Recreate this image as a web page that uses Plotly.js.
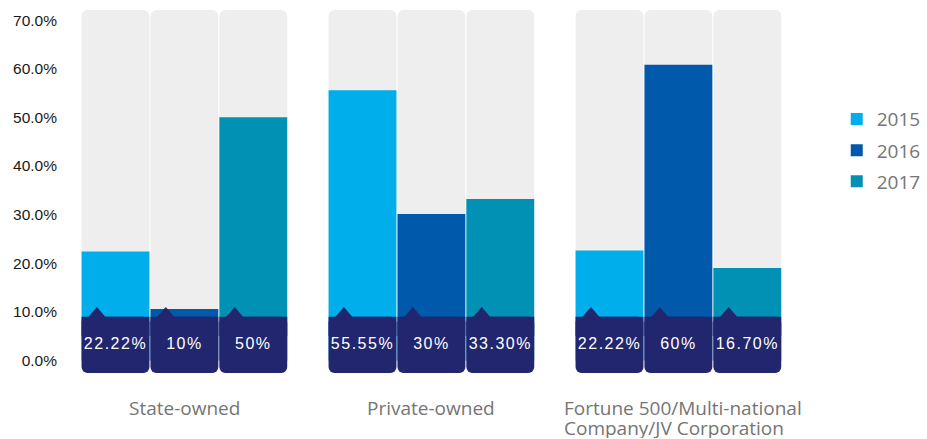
<!DOCTYPE html>
<html><head><meta charset="utf-8">
<script src="https://cdn.plot.ly/plotly-3.0.1.min.js"></script>
<style>
html,body{margin:0;padding:0;background:#fff}
#chart{width:927px;height:439px}
#chart .textpoint text{letter-spacing:1.5px}
</style>
</head><body><div id="chart"></div>
<script>
// ---- data ----
const categories = ['State-owned', 'Private-owned', 'Fortune 500/Multi-national<br>Company/JV Corporation'];
const years = ['2015', '2016', '2017'];
const values2015 = [22.4, 55.6, 22.6];
const values2016 = [10.6, 30.1, 60.8];
const values2017 = [50.0, 33.2, 19.0];
const labels2015 = ['22.22%', '55.55%', '22.22%'];
const labels2016 = ['10%', '30%', '60%'];
const labels2017 = ['50%', '33.30%', '16.70%'];
const yTickVals = [0, 10, 20, 30, 40, 50, 60, 70];

// ---- layout constants ----
const GROUP_STEP = 3.585;
const BAR_W = 0.985;
const BG_TOP = 72.1, BAND_TOP = 9.0, BAND_BOTTOM = -2.6, NOTCH_TOP = 11.0, LABEL_Y = 3.2;
const colors = ['#00AEEC', '#0059AB', '#0091B4'];
const NAVY = '#22266E', GRAY = '#EEEEEE';
const CAT_FONT = {family: 'Open Sans, sans-serif', size: 19, color: '#757575'};

const seriesVals = [values2015, values2016, values2017];
const seriesLabels = [labels2015, labels2016, labels2017];
const xPos = (g, i) => g * GROUP_STEP + i;

const allX = [], allText = [];
categories.forEach((c, g) => years.forEach((y, i) => { allX.push(xPos(g, i)); allText.push(seriesLabels[i][g]); }));

const traces = [];
traces.push({
  type: 'bar', x: allX, y: allX.map(() => BG_TOP - BAND_BOTTOM), base: BAND_BOTTOM,
  width: BAR_W, marker: {color: GRAY, cornerradius: 6}, showlegend: false, hoverinfo: 'skip'
});
years.forEach((yr, i) => {
  traces.push({
    type: 'bar', name: yr, legendgroup: yr,
    x: categories.map((c, g) => xPos(g, i)), y: seriesVals[i],
    width: BAR_W, marker: {color: colors[i]}
  });
});
// navy band: rounded bottom part + square top part
traces.push({
  type: 'bar', x: allX, y: allX.map(() => BAND_BOTTOM - BAND_TOP), base: BAND_TOP,
  width: BAR_W, marker: {color: NAVY, cornerradius: 6}, showlegend: false, hoverinfo: 'skip'
});
traces.push({
  type: 'bar', x: allX, y: allX.map(() => 4), base: BAND_TOP - 4,
  width: BAR_W, marker: {color: NAVY}, showlegend: false, hoverinfo: 'skip'
});
traces.push({
  type: 'scatter', mode: 'text', x: allX, y: allX.map(() => LABEL_Y), text: allText,
  textfont: {family: 'Liberation Sans, Arial, sans-serif', size: 16, color: '#ffffff'},
  showlegend: false, hoverinfo: 'skip'
});

// notch triangles on top of each navy band
const NOTCH_OFF = -0.27, NOTCH_HW = 0.14;
const shapes = allX.map(x => {
  const c = x + NOTCH_OFF;
  return {type: 'path', xref: 'x', yref: 'y', layer: 'above', line: {width: 0}, fillcolor: NAVY,
    path: `M${c - NOTCH_HW},${BAND_TOP - 0.3} L${c},${NOTCH_TOP} L${c + NOTCH_HW},${BAND_TOP - 0.3} Z`};
});

// category labels, one annotation per line
const LINE1_Y = -0.0872, LINE_STEP = 0.0572;
const annotations = [];
categories.forEach((c, g) => {
  const lines = c.split('<br>');
  lines.forEach((ln, k) => {
    const multi = lines.length > 1;
    annotations.push({
      text: ln, showarrow: false, xref: 'x', yref: 'paper', height: 21,
      x: multi ? xPos(g, 0) - 0.5 : xPos(g, 1), xanchor: multi ? 'left' : 'center', xshift: multi ? -13 : 0,
      y: LINE1_Y - k * LINE_STEP, yanchor: 'middle', font: CAT_FONT
    });
  });
});

const layout = {
  width: 927, height: 439,
  margin: {l: 65, r: 127, t: 8, b: 64, autoexpand: false},
  paper_bgcolor: '#ffffff', plot_bgcolor: '#ffffff',
  barmode: 'overlay', showlegend: true,
  xaxis: {
    range: [-0.733, 9.935], showticklabels: false,
    showgrid: false, zeroline: false, showline: false, ticks: ''
  },
  yaxis: {
    range: [-3, 72.5], tickvals: yTickVals, ticktext: yTickVals.map(v => v.toFixed(1) + '%'),
    showgrid: false, zeroline: false, showline: false, ticks: '', ticklabelstandoff: 7,
    tickfont: {family: 'Liberation Sans, Arial, sans-serif', size: 15.5, color: '#1a1a1a'}
  },
  legend: {
    x: 1.05, xanchor: 'left', y: 0.749, yanchor: 'top',
    traceorder: 'grouped', tracegroupgap: 3.5,
    font: {family: 'Open Sans, sans-serif', size: 19, color: '#757575'}
  },
  shapes: shapes,
  annotations: annotations
};

Plotly.newPlot('chart', traces, layout, {displayModeBar: false, staticPlot: true});
</script>
</body></html>
